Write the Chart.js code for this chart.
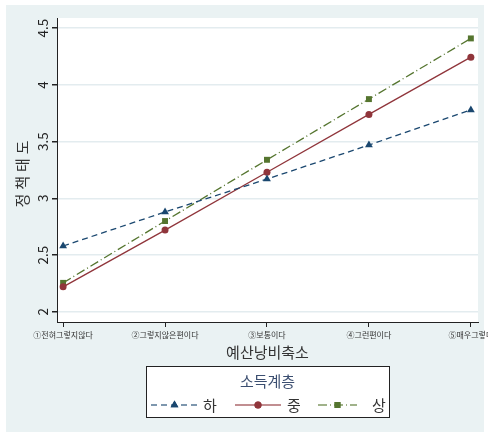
<!DOCTYPE html>
<html>
<head>
<meta charset="utf-8">
<script src="https://cdn.jsdelivr.net/npm/chart.js@4"></script>
<style>
  html, body { margin: 0; padding: 0; background: #fff; }
  #wrap { width: 488px; height: 435px; }
</style>
</head>
<body>
<div id="wrap"><canvas id="chart" width="488" height="435"></canvas></div>
<script>
// ── data ──────────────────────────────────────────────
const categories = ['①전혀그렇지않다', '②그렇지않은편이다', '③보통이다', '④그런편이다', '⑤매우그렇다'];
const xPositions = [1, 2, 3, 4, 5];
const lowIncome  = [2.58, 2.88, 3.17, 3.47, 3.78];   // 하
const midIncome  = [2.22, 2.72, 3.23, 3.74, 4.245];  // 중
const highIncome = [2.255, 2.80, 3.34, 3.875, 4.41]; // 상
const yTicks = [2, 2.5, 3, 3.5, 4, 4.5];
const seriesNames = ['하', '중', '상'];
const legendTitle = '소득계층';
const xTitle = '예산낭비축소';
const yTitle = '정책태도';

const FONT = '"Noto Sans CJK KR", "Noto Sans", sans-serif';
const NAVY = '#1a476f', MAROON = '#90353b', GREEN = '#55752f';

const toPoints = vals => vals.map((v, i) => ({ x: xPositions[i], y: v }));

const datasets = [
    { label: seriesNames[0], data: toPoints(lowIncome),  borderColor: NAVY,   backgroundColor: NAVY,
      borderDash: [6, 4], pointStyle: 'triangle', pointRadius: 4.5 },
    { label: seriesNames[1], data: toPoints(midIncome),  borderColor: MAROON, backgroundColor: MAROON,
      borderDash: [], pointStyle: 'circle', pointRadius: 3.5 },
    { label: seriesNames[2], data: toPoints(highIncome), borderColor: GREEN,  backgroundColor: GREEN,
      borderDash: [9, 3, 1, 3], pointStyle: 'rect', pointRadius: 4.2 }
].map(d => Object.assign(d, { borderWidth: 1.3, pointBorderWidth: 0, tension: 0 }));

// background panels, manual y labels, titles and the stata-like legend
const decor = {
    id: 'decor',
    beforeDraw(chart) {
        const { ctx, chartArea: a } = chart;
        ctx.save();
        ctx.fillStyle = '#ffffff';
        ctx.fillRect(0, 0, chart.width, chart.height);
        ctx.fillStyle = '#eaf2f3';
        ctx.fillRect(6, 5, 478, 427);
        ctx.fillStyle = '#ffffff';
        ctx.fillRect(a.left, a.top, a.right - a.left, a.bottom - a.top);
        ctx.restore();
    },
    afterDraw(chart) {
        const { ctx, chartArea: a } = chart;
        const ys = chart.scales.y;
        ctx.save();
        ctx.fillStyle = '#222';
        ctx.textAlign = 'center';
        ctx.textBaseline = 'middle';

        // y tick labels, rotated
        ctx.font = '13.5px ' + FONT;
        yTicks.forEach(v => {
            const py = ys.getPixelForValue(v);
            ctx.save();
            ctx.translate(43, py);
            ctx.rotate(-Math.PI / 2);
            ctx.fillText(String(v), 0, 0);
            ctx.restore();
        });

        // axis titles
        ctx.fillStyle = '#333';
        ctx.font = '15px ' + FONT;
        ctx.save();
        ctx.translate(22, 172);
        ctx.rotate(-Math.PI / 2);
        ctx.letterSpacing = '4px';
        ctx.fillText(yTitle, 0, 0);
        ctx.restore();
        ctx.fillText(xTitle, (a.left + a.right) / 2, 352);

        // legend box
        const bx = 146, by = 366, bw = 243, bh = 51;
        ctx.fillStyle = '#fff';
        ctx.fillRect(bx, by, bw, bh);
        ctx.strokeStyle = '#222';
        ctx.lineWidth = 1;
        ctx.strokeRect(bx + 0.5, by + 0.5, bw, bh);

        ctx.fillStyle = '#3b4e70';
        ctx.font = '15px ' + FONT;
        ctx.fillText(legendTitle, bx + bw / 2, 381);

        const items = [
            { x0: 151, x1: 198, lx: 210 },
            { x0: 235, x1: 281, lx: 294 },
            { x0: 318, x1: 357, lx: 379 }
        ];
        const ly = 405;
        chart.data.datasets.forEach((ds, i) => {
            const it = items[i];
            ctx.save();
            ctx.strokeStyle = ds.borderColor;
            ctx.globalAlpha = 0.75;
            ctx.lineWidth = 1.3;
            ctx.setLineDash(ds.borderDash);
            ctx.beginPath();
            ctx.moveTo(it.x0, ly);
            ctx.lineTo(it.x1, ly);
            ctx.stroke();
            ctx.restore();
            ctx.fillStyle = ds.backgroundColor;
            ctx.beginPath();
            Chart.helpers.drawPoint(ctx, {
                pointStyle: ds.pointStyle, radius: ds.pointRadius, borderWidth: 0, rotation: 0
            }, (it.x0 + it.x1) / 2, ly);
            ctx.fill();
            ctx.fillStyle = '#333';
            ctx.font = '15px ' + FONT;
            ctx.fillText(ds.label, it.lx, ly);
        });
        ctx.restore();
    }
};

new Chart(document.getElementById('chart'), {
    type: 'line',
    data: { datasets },
    plugins: [decor],
    options: {
        responsive: false,
        animation: false,
        layout: { padding: { left: 0, top: 18, right: 10, bottom: 0 } },
        plugins: { legend: { display: false }, tooltip: { enabled: false } },
        scales: {
            x: {
                type: 'linear',
                min: 0.94,
                max: 5.07,
                afterFit: s => { s.height = 113; s.paddingLeft = 0; s.paddingRight = 0; },
                afterBuildTicks: s => { s.ticks = xPositions.map(v => ({ value: v })); },
                grid: { color: 'transparent', tickColor: '#222', tickLength: 5, drawOnChartArea: false },
                border: { color: '#222', width: 1 },
                ticks: {
                    autoSkip: false, maxRotation: 0, padding: 3,
                    color: '#333', font: { family: FONT, size: 8 },
                    callback: v => categories[xPositions.indexOf(v)]
                }
            },
            y: {
                type: 'linear',
                min: 1.91,
                max: 4.59,
                afterFit: s => { s.width = 57; s.paddingTop = 0; s.paddingBottom = 0; },
                afterBuildTicks: s => { s.ticks = yTicks.map(v => ({ value: v })); },
                grid: { color: '#e3ecef', tickColor: '#222', tickLength: 5, lineWidth: 1.5 },
                border: { color: '#222', width: 1 },
                ticks: { display: false }
            }
        }
    }
});
</script>
</body>
</html>
